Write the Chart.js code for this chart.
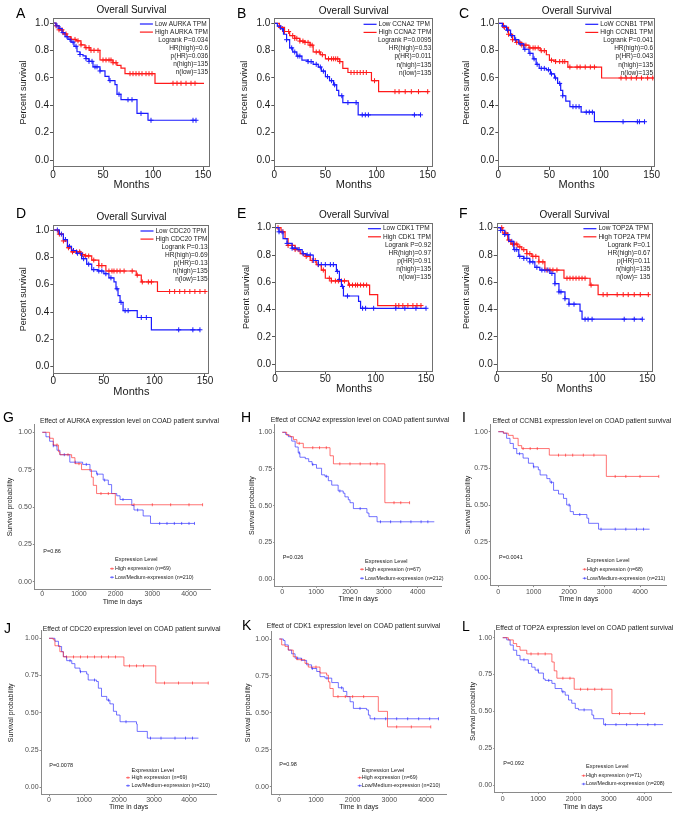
<!DOCTYPE html>
<html>
<head>
<meta charset="utf-8">
<script src="https://cdn.jsdelivr.net/npm/chart.js@4.4.0/dist/chart.umd.min.js"></script>
<style>
  body { margin: 0; background: #fff; }
  #fig { position: relative; width: 678px; height: 813px; overflow: hidden; background: #fff; }
  #fig canvas { position: absolute; }
</style>
</head>
<body>
<div id="fig"></div>
<script>
// tick values
const monthTicks = [0, 50, 100, 150];
const survTicks = [0, 0.2, 0.4, 0.6, 0.8, 1.0];
const dayTicks = [0, 1000, 2000, 3000, 4000];
const probTicks = [0, 0.25, 0.5, 0.75, 1];

// ---- GEPIA panels (months) ----
// A AURKA
const aLowT = [0, 3, 6, 9, 12, 15, 18, 21, 24, 27, 30, 33, 36, 40, 47, 52, 56, 62, 64, 68, 84, 95, 143];
const aLowS = [1, 0.98, 0.96, 0.93, 0.9, 0.88, 0.86, 0.83, 0.79, 0.77, 0.76, 0.74, 0.72, 0.68, 0.65, 0.61, 0.58, 0.55, 0.48, 0.44, 0.34, 0.29, 0.29];
const aLowC = [4, 7, 10, 14, 17, 20, 23, 27, 33, 36, 39, 42, 44, 47, 57, 66, 75, 79, 88, 98, 140, 143];
const aHighT = [0, 3, 6, 10, 14, 18, 23, 28, 32, 37, 47, 60, 64, 68, 72, 102, 151];
const aHighS = [1, 0.98, 0.95, 0.92, 0.9, 0.88, 0.87, 0.84, 0.82, 0.8, 0.73, 0.71, 0.69, 0.67, 0.63, 0.56, 0.56];
const aHighC = [3, 6, 9, 13, 18, 22, 25, 28, 33, 36, 38, 41, 45, 50, 53, 56, 58, 60, 63, 77, 80, 83, 86, 89, 93, 96, 99, 120, 124, 128, 133, 138, 142];
const aStats = ['Logrank P=0.034', 'HR(high)=0.6', 'p(HR)=0.036', 'n(high)=135', 'n(low)=135'];

// B CCNA2
const bLowT = [0, 3, 6, 9, 12, 15, 18, 22, 27, 33, 38, 43, 46, 50, 54, 58, 61, 63, 67, 82, 143];
const bLowS = [1, 0.98, 0.96, 0.92, 0.88, 0.82, 0.79, 0.76, 0.73, 0.72, 0.7, 0.68, 0.65, 0.61, 0.58, 0.55, 0.51, 0.47, 0.42, 0.33, 0.33];
const bLowC = [5, 8, 12, 17, 20, 23, 25, 33, 36, 41, 45, 48, 52, 56, 59, 66, 72, 80, 86, 89, 92, 137, 143];
const bHighT = [0, 5, 10, 15, 20, 25, 30, 35, 38, 45, 50, 64, 67, 72, 95, 102, 151];
const bHighS = [1, 0.97, 0.94, 0.91, 0.89, 0.87, 0.86, 0.84, 0.79, 0.77, 0.74, 0.72, 0.67, 0.64, 0.58, 0.5, 0.5];
const bHighC = [6, 10, 14, 18, 20, 22, 25, 28, 30, 33, 35, 37, 41, 44, 47, 53, 56, 58, 60, 62, 64, 75, 78, 81, 84, 87, 90, 98, 118, 122, 128, 134, 141, 150];
const bStats = ['Logrank P=0.0095', 'HR(high)=0.53', 'p(HR)=0.011', 'n(high)=135', 'n(low)=135'];

// C CCNB1
const cLowT = [0, 4, 8, 12, 16, 20, 25, 30, 34, 37, 40, 47, 51, 55, 58, 61, 63, 66, 70, 81, 94, 143];
const cLowS = [1, 0.98, 0.95, 0.91, 0.88, 0.85, 0.81, 0.78, 0.74, 0.7, 0.67, 0.66, 0.63, 0.6, 0.56, 0.51, 0.47, 0.43, 0.39, 0.35, 0.28, 0.28];
const cLowC = [5, 9, 13, 17, 22, 26, 31, 35, 38, 42, 45, 49, 52, 56, 60, 63, 73, 76, 79, 86, 89, 92, 122, 136, 138, 143];
const cHighT = [0, 5, 10, 14, 18, 23, 30, 41, 47, 50, 56, 68, 101, 152];
const cHighS = [1, 0.97, 0.92, 0.88, 0.86, 0.84, 0.82, 0.8, 0.77, 0.73, 0.72, 0.68, 0.6, 0.6];
const cHighC = [6, 10, 14, 18, 21, 23, 25, 27, 31, 34, 36, 39, 42, 45, 52, 56, 60, 63, 65, 70, 77, 80, 85, 90, 94, 120, 125, 130, 135, 140, 146, 151];
const cStats = ['Logrank P=0.041', 'HR(high)=0.6', 'p(HR)=0.043', 'n(high)=135', 'n(low)=135'];

// D CDC20
const dLowT = [0, 6, 10, 14, 18, 23, 28, 33, 38, 44, 50, 55, 60, 62, 64, 66, 69, 83, 97, 145];
const dLowS = [1, 0.97, 0.93, 0.88, 0.85, 0.83, 0.79, 0.75, 0.71, 0.7, 0.68, 0.65, 0.62, 0.57, 0.52, 0.47, 0.41, 0.36, 0.27, 0.27];
const dLowC = [4, 8, 12, 16, 20, 24, 27, 30, 35, 40, 45, 48, 52, 57, 63, 67, 71, 74, 87, 92, 124, 138, 145];
const dHighT = [0, 5, 10, 14, 18, 27, 31, 38, 45, 52, 82, 87, 103, 152];
const dHighS = [1, 0.97, 0.92, 0.87, 0.84, 0.82, 0.81, 0.78, 0.74, 0.7, 0.67, 0.62, 0.55, 0.55];
const dHighC = [6, 10, 15, 19, 23, 26, 29, 32, 35, 40, 45, 48, 55, 58, 60, 63, 66, 70, 78, 83, 88, 94, 97, 115, 120, 125, 130, 135, 140, 145, 150];
const dStats = ['Logrank P=0.13', 'HR(high)=0.69', 'p(HR)=0.13', 'n(high)=135', 'n(low)=135'];

// E CDK1
const eLowT = [0, 4, 8, 12, 17, 22, 27, 31, 38, 43, 61, 64, 66, 68, 83, 85, 150];
const eLowS = [1, 0.97, 0.92, 0.885, 0.85, 0.84, 0.81, 0.8, 0.76, 0.73, 0.68, 0.62, 0.57, 0.5, 0.46, 0.41, 0.41];
const eLowC = [4, 7, 12, 17, 20, 24, 28, 32, 35, 38, 43, 46, 50, 55, 58, 62, 64, 67, 72, 87, 90, 98, 120, 129, 140, 150];
const eHighT = [0, 6, 10, 13, 20, 25, 30, 35, 41, 46, 50, 56, 73, 94, 102, 146];
const eHighS = [1, 0.97, 0.92, 0.87, 0.84, 0.81, 0.79, 0.76, 0.73, 0.69, 0.63, 0.61, 0.58, 0.51, 0.43, 0.43];
const eHighC = [3, 8, 13, 17, 20, 23, 28, 31, 37, 40, 43, 48, 54, 56, 60, 63, 66, 69, 74, 77, 80, 82, 85, 88, 91, 120, 123, 127, 132, 137, 141, 145];
const eStats = ['Logrank P=0.92', 'HR(high)=0.97', 'p(HR)=0.91', 'n(high)=135', 'n(low)=135'];

// F TOP2A
const fLowT = [0, 4, 8, 12, 17, 22, 27, 33, 38, 43, 53, 58, 62, 68, 72, 83, 85, 145];
const fLowS = [1, 0.98, 0.95, 0.9, 0.84, 0.79, 0.775, 0.75, 0.71, 0.69, 0.665, 0.59, 0.53, 0.48, 0.44, 0.39, 0.33, 0.33];
const fLowC = [4, 8, 11, 15, 18, 20, 23, 27, 30, 33, 36, 40, 45, 48, 51, 55, 58, 62, 64, 68, 72, 77, 88, 91, 95, 127, 137, 145];
const fHighT = [0, 6, 11, 14, 21, 25, 30, 35, 42, 48, 67, 93, 101, 152];
const fHighS = [1, 0.96, 0.91, 0.88, 0.86, 0.84, 0.81, 0.79, 0.75, 0.69, 0.63, 0.58, 0.51, 0.51];
const fHighC = [5, 9, 12, 16, 18, 20, 23, 27, 30, 33, 36, 39, 42, 46, 50, 53, 56, 60, 70, 73, 76, 79, 82, 85, 88, 94, 106, 110, 120, 126, 131, 137, 143, 151];
const fStats = ['Logrank P=0.1', 'HR(high)=0.67', 'p(HR)=0.11', 'n(high)=135', 'n(low)= 135'];

// ---- UALCAN panels (days) ----
// G AURKA
const gLowT = [0, 100, 200, 300, 400, 480, 750, 1100, 1300, 1480, 1660, 1800, 1890, 2030, 2120, 2440, 2500, 2750, 2950, 4150];
const gLowS = [1, 0.97, 0.94, 0.91, 0.88, 0.85, 0.8, 0.785, 0.74, 0.72, 0.68, 0.65, 0.59, 0.575, 0.55, 0.51, 0.48, 0.44, 0.39, 0.39];
const gLowC = [300, 600, 900, 1200, 1500, 1700, 2200, 2600, 3200, 3400, 3600, 3800, 4000, 4150];
const gHighT = [0, 200, 300, 440, 480, 800, 890, 1070, 1340, 1390, 1480, 1990, 4370];
const gHighS = [1, 0.96, 0.915, 0.87, 0.85, 0.83, 0.79, 0.75, 0.7, 0.645, 0.59, 0.515, 0.515];
const gHighC = [400, 700, 1000, 1600, 1800, 2500, 3000, 3500, 4000, 4370];

// H CCNA2
const hLowT = [0, 100, 180, 280, 380, 470, 520, 680, 780, 880, 1010, 1160, 1260, 1360, 1460, 1650, 1800, 1850, 1950, 2000, 2100, 2500, 2560, 2800, 4490];
const hLowS = [1, 0.985, 0.97, 0.94, 0.9, 0.86, 0.83, 0.82, 0.8, 0.78, 0.755, 0.71, 0.7, 0.67, 0.64, 0.6, 0.585, 0.56, 0.54, 0.52, 0.48, 0.45, 0.425, 0.39, 0.39];
const hLowC = [500, 900, 1300, 1700, 2300, 2900, 3200, 3500, 3800, 4100, 4300];
const hHighT = [0, 130, 230, 330, 430, 620, 1410, 1510, 3030, 3760];
const hHighS = [1, 0.98, 0.97, 0.95, 0.925, 0.895, 0.84, 0.785, 0.52, 0.52];
const hHighC = [500, 900, 1100, 1300, 1700, 2000, 2300, 2600, 2800, 3300, 3500, 3760];

// I CCNB1
const iLowT = [0, 140, 235, 330, 425, 520, 700, 850, 990, 1130, 1180, 1370, 1460, 1560, 1700, 1840, 1930, 2030, 2120, 2500, 2550, 2830, 4270];
const iLowS = [1, 0.99, 0.955, 0.92, 0.885, 0.85, 0.82, 0.785, 0.76, 0.74, 0.705, 0.68, 0.655, 0.6, 0.575, 0.545, 0.5, 0.455, 0.435, 0.41, 0.375, 0.335, 0.335];
const iLowC = [600, 1000, 1500, 2000, 2300, 2900, 3300, 3600, 3900, 4100];
const iHighT = [0, 150, 280, 420, 560, 660, 1440, 3050, 4530];
const iHighS = [1, 0.99, 0.975, 0.955, 0.905, 0.885, 0.84, 0.695, 0.695];
const iHighC = [700, 900, 1100, 1700, 1900, 2100, 2400, 2700, 3300, 3600, 4000, 4530];

// J CDC20
const jLowT = [0, 170, 270, 360, 410, 505, 650, 740, 885, 1075, 1120, 1360, 1410, 1500, 1650, 1740, 1840, 1930, 2030, 2500, 2520, 2810, 4270];
const jLowS = [1, 0.98, 0.945, 0.91, 0.877, 0.85, 0.83, 0.8, 0.776, 0.76, 0.72, 0.71, 0.665, 0.61, 0.585, 0.56, 0.51, 0.485, 0.44, 0.425, 0.375, 0.33, 0.33];
const jLowC = [600, 900, 1300, 1700, 2200, 2900, 3200, 3600, 3900, 4100];
const jHighT = [0, 120, 170, 310, 410, 2140, 3050, 4550];
const jHighS = [1, 0.99, 0.95, 0.91, 0.875, 0.815, 0.7, 0.7];
const jHighC = [500, 700, 900, 1100, 1300, 1500, 1700, 1900, 2300, 2500, 2700, 3300, 3700, 4100, 4550];

// K CDK1
const kLowT = [0, 110, 155, 245, 335, 430, 610, 745, 880, 1020, 1110, 1245, 1430, 1610, 1745, 1840, 1930, 2020, 2380, 2430, 2475, 4340];
const kLowS = [1, 0.99, 0.96, 0.925, 0.9, 0.87, 0.855, 0.825, 0.8, 0.78, 0.745, 0.735, 0.705, 0.67, 0.645, 0.61, 0.575, 0.53, 0.52, 0.485, 0.46, 0.46];
const kLowC = [500, 900, 1300, 1700, 2200, 2600, 2900, 3200, 3500, 3800, 4100, 4340];
const kHighT = [0, 65, 155, 245, 380, 470, 700, 790, 1110, 1290, 1340, 1380, 1470, 2700, 2950, 4130];
const kHighS = [1, 0.96, 0.95, 0.925, 0.88, 0.86, 0.835, 0.81, 0.77, 0.755, 0.71, 0.665, 0.61, 0.51, 0.405, 0.405];
const kHighC = [600, 1000, 1600, 1800, 2000, 2300, 3200, 3600, 4130];

// L TOP2A
const lLowT = [0, 115, 210, 300, 395, 490, 725, 820, 915, 1010, 1150, 1200, 1390, 1480, 1670, 1765, 1860, 1950, 2050, 2140, 2520, 2570, 2850, 4530];
const lLowS = [1, 0.985, 0.95, 0.915, 0.88, 0.85, 0.825, 0.8, 0.78, 0.76, 0.72, 0.71, 0.69, 0.655, 0.633, 0.61, 0.577, 0.555, 0.52, 0.51, 0.475, 0.45, 0.41, 0.41];
const lLowC = [600, 1000, 1300, 1700, 2300, 2900, 3200, 3500, 3800, 4100, 4300];
const lHighT = [0, 160, 300, 395, 490, 680, 1390, 1455, 1530, 2020, 3085, 4010];
const lHighS = [1, 0.985, 0.96, 0.94, 0.915, 0.89, 0.835, 0.775, 0.725, 0.65, 0.485, 0.485];
const lHighC = [800, 1000, 1200, 1700, 1900, 2200, 2400, 2600, 2800, 3300, 3600, 4010];

const FONT = "'Liberation Sans', Arial, Helvetica, sans-serif";
const fig = document.getElementById('fig');

function stepAt(t, s, x) {
  let v = s[0];
  for (let i = 0; i < t.length; i++) if (t[i] <= x) v = s[i];
  return v;
}
function curve(t, s) { return t.map((x, i) => ({ x: x, y: s[i] })); }
function marks(t, s, c) { return c.map(x => ({ x: x, y: stepAt(t, s, x) })); }

function text(ctx, str, x, y, size, color, align, base) {
  ctx.font = size + 'px ' + FONT;
  ctx.fillStyle = color;
  ctx.textAlign = align || 'left';
  ctx.textBaseline = base || 'middle';
  ctx.fillText(str, x, y);
}

function build(p, g) {
  const [cx, cy, cw, ch] = p.canvas;
  const cv = document.createElement('canvas');
  cv.width = cw; cv.height = ch;
  cv.style.left = cx + 'px'; cv.style.top = cy + 'px';
  fig.appendChild(cv);
  const tickFont = { family: FONT, size: g.tickSize, lineHeight: 1 };
  new Chart(cv, {
    type: 'line',
    data: { datasets: g.datasets },
    options: {
      responsive: false, animation: false, devicePixelRatio: 1, events: [],
      layout: { padding: { left: 0, top: g.t - cy, right: cx + cw - g.r, bottom: 0 } },
      plugins: { legend: { display: false }, title: { display: false }, tooltip: { enabled: false } },
      scales: {
        x: {
          type: 'linear', min: g.xmin, max: g.xmax,
          afterFit: s => { s.height = cy + ch - g.b; },
          afterBuildTicks: s => { s.ticks = g.xTicks.map(v => ({ value: v })); },
          ticks: { autoSkip: false, maxRotation: 0, font: tickFont, color: g.tickColor,
                   padding: g.xTickY - g.b - g.tl - g.tickSize / 2, callback: g.xFmt },
          grid: { drawOnChartArea: false, drawTicks: true, tickLength: g.tl, color: g.axisColor },
          border: { display: g.border, color: g.axisColor, width: 1 },
          title: { display: true, text: g.xTitle, color: g.titleColor,
                   font: { family: FONT, size: g.xTitleSize, lineHeight: 1 },
                   padding: { top: 0, bottom: cy + ch - g.xTitleY - g.xTitleSize / 2 } }
        },
        y: {
          type: 'linear', min: g.ymin, max: g.ymax,
          afterFit: s => { s.width = g.l - cx; },
          afterBuildTicks: s => { s.ticks = g.yTicks.map(v => ({ value: v })); },
          ticks: { autoSkip: false, font: tickFont, color: g.tickColor, padding: g.yTickPad, callback: g.yFmt },
          grid: { drawOnChartArea: false, drawTicks: true, tickLength: g.tl, color: g.axisColor },
          border: { display: g.border, color: g.axisColor, width: 1 },
          title: { display: true, text: g.yTitle, color: g.titleColor,
                   font: { family: FONT, size: g.yTitleSize, lineHeight: 1 },
                   padding: { top: g.yTitleX - cx - g.yTitleSize / 2, bottom: 0 } }
        }
      }
    },
    plugins: [{ id: 'deco', afterDraw: chart => g.draw(chart.ctx, cx, cy, chart) }]
  });
}

function lineSet(data, color, w) {
  return { data: data, borderColor: color, borderWidth: w, stepped: true, pointRadius: 0, fill: false };
}
function markSet(data, color, style, r, rot) {
  return { data: data, showLine: false, pointStyle: style, pointRadius: r, pointRotation: rot || 0,
           pointBorderColor: color, pointBackgroundColor: color, pointBorderWidth: 1 };
}

// GEPIA style panel
function gepia(p) {
  const kx = (p.x150 - p.x0) / 150, ky = p.py0 - p.py1;
  const l = p.x0, r = p.r, t = p.py1 - 5, b = p.py0 + 7;
  const RED = '#ff1a1a', BLUE = '#1a1aff';
  build(p, {
    l, r, t, b,
    xmin: 0, xmax: (r - p.x0) / kx, ymin: (p.py0 - b) / ky, ymax: (p.py0 - t) / ky,
    xTicks: monthTicks, yTicks: survTicks,
    xFmt: v => String(v), yFmt: v => v.toFixed(1),
    tickSize: 10, tickColor: '#1a1a1a', tl: 3, yTickPad: 1, xTickY: p.py0 + 15,
    axisColor: '#555', border: false, titleColor: '#1a1a1a',
    xTitle: 'Months', xTitleSize: 11, xTitleY: p.py0 + 25,
    yTitle: 'Percent survival', yTitleSize: 9, yTitleX: p.yTitleX,
    datasets: [
      lineSet(curve(p.lowT, p.lowS), BLUE, 1.2),
      lineSet(curve(p.highT, p.highS), RED, 1.2),
      markSet(marks(p.lowT, p.lowS, p.lowC), BLUE, 'cross', 2.5),
      markSet(marks(p.highT, p.highS, p.highC), RED, 'cross', 2.5)
    ],
    draw: (ctx, cx, cy, chart) => {
      const a = chart.chartArea;
      ctx.save();
      ctx.strokeStyle = '#707070'; ctx.lineWidth = 1;
      ctx.strokeRect(Math.round(a.left) + 0.5, Math.round(a.top) + 0.5,
                     Math.round(a.right - a.left) - 1, Math.round(a.bottom - a.top) - 1);
      text(ctx, 'Overall Survival', (a.left + a.right) / 2, p.py1 - 12.3 - cy, 10, '#111', 'center');
      text(ctx, p.letter, p.lx - cx, p.ly - cy, 14, '#000', 'left', 'alphabetic');
      const right = r - 2 - cx;
      let y = p.py1 + 1 - cy;
      ctx.font = '6.5px ' + FONT;
      const tx = right - ctx.measureText(p.highLabel).width;
      [[p.lowLabel, BLUE], [p.highLabel, RED]].forEach(([lab, col]) => {
        ctx.strokeStyle = col; ctx.lineWidth = 1.2;
        ctx.beginPath(); ctx.moveTo(tx - 15, y); ctx.lineTo(tx - 2, y); ctx.stroke();
        text(ctx, lab, tx, y, 6.5, '#222');
        y += 8.1;
      });
      p.stats.forEach(s => { text(ctx, s, right, y, 6.5, '#222', 'right'); y += 8.1; });
      ctx.restore();
    }
  });
}

// UALCAN style panel
function ualcan(p) {
  const kx = (p.x4000 - p.x0) / 4000, ky = p.py0 - p.py1;
  const l = p.x0 + p.xr[0] * kx, r = p.x0 + p.xr[1] * kx;
  const t = p.py0 - 1.05 * ky, b = p.py0 + 0.05 * ky;
  const RED = 'rgba(255,30,30,0.62)', BLUE = 'rgba(30,30,255,0.62)';
  build(p, {
    l, r, t, b,
    xmin: p.xr[0], xmax: p.xr[1], ymin: -0.05, ymax: 1.05,
    xTicks: dayTicks, yTicks: probTicks,
    xFmt: v => String(v), yFmt: v => v.toFixed(2),
    tickSize: 7, tickColor: '#4d4d4d', tl: 1.5, yTickPad: 1, xTickY: p.tickY,
    axisColor: '#8a8a8a', border: true, titleColor: '#222',
    xTitle: 'Time in days', xTitleSize: 7, xTitleY: p.xTitleY,
    yTitle: 'Survival probability', yTitleSize: 7, yTitleX: p.yTitleX,
    datasets: [
      lineSet(curve(p.highT, p.highS), RED, 1),
      lineSet(curve(p.lowT, p.lowS), BLUE, 1),
      markSet(marks(p.highT, p.highS, p.highC), RED, 'line', 1.5, 90),
      markSet(marks(p.lowT, p.lowS, p.lowC), BLUE, 'line', 1.5, 90)
    ],
    draw: (ctx, cx, cy) => {
      ctx.save();
      text(ctx, p.letter, p.lx - cx, p.ly - cy, 14, '#000', 'left', 'alphabetic');
      text(ctx, 'Effect of ' + p.gene + ' expression level on COAD patient survival',
           p.titleX - cx, p.titleY - cy, 6.8, '#222');
      text(ctx, p.pText, p.pX - cx, p.pY - cy, 5.5, '#222');
      text(ctx, 'Expression Level', p.legX - cx, p.legY[0] - cy, 5.6, '#222');
      [[p.highLabel, RED], [p.lowLabel, BLUE]].forEach(([lab, col], i) => {
        const y = p.legY[i + 1] - cy, x = p.keyX - cx;
        ctx.strokeStyle = col; ctx.lineWidth = 1;
        ctx.beginPath(); ctx.moveTo(x, y); ctx.lineTo(x + 4, y);
        ctx.moveTo(x + 2, y - 1.2); ctx.lineTo(x + 2, y + 1.2); ctx.stroke();
        text(ctx, lab, p.legX - cx, y, 5.4, '#222');
      });
      ctx.restore();
    }
  });
}

gepia({ letter: 'A', lx: 16, ly: 18, canvas: [0, 0, 240, 196], x0: 53, x150: 203, r: 210, py1: 23, py0: 160, yTitleX: 24,
  lowLabel: 'Low AURKA TPM', highLabel: 'High AURKA TPM', stats: aStats,
  lowT: aLowT, lowS: aLowS, lowC: aLowC, highT: aHighT, highS: aHighS, highC: aHighC });
gepia({ letter: 'B', lx: 237, ly: 18, canvas: [225, 0, 240, 196], x0: 274.3, x150: 427.7, r: 433.3, py1: 23.3, py0: 160, yTitleX: 245,
  lowLabel: 'Low CCNA2 TPM', highLabel: 'High CCNA2 TPM', stats: bStats,
  lowT: bLowT, lowS: bLowS, lowC: bLowC, highT: bHighT, highS: bHighS, highC: bHighC });
gepia({ letter: 'C', lx: 459, ly: 18, canvas: [450, 0, 228, 196], x0: 498.3, x150: 651.7, r: 655, py1: 23.3, py0: 160, yTitleX: 467,
  lowLabel: 'LoW CCNB1 TPM', highLabel: 'High CCNB1 TPM', stats: cStats,
  lowT: cLowT, lowS: cLowS, lowC: cLowC, highT: cHighT, highS: cHighS, highC: cHighC });
gepia({ letter: 'D', lx: 16, ly: 218, canvas: [0, 196, 240, 202], x0: 53.3, x150: 205, r: 209.5, py1: 230, py0: 366.7, yTitleX: 24,
  lowLabel: 'Low CDC20 TPM', highLabel: 'High CDC20 TPM', stats: dStats,
  lowT: dLowT, lowS: dLowS, lowC: dLowC, highT: dHighT, highS: dHighS, highC: dHighC });
gepia({ letter: 'E', lx: 237, ly: 218, canvas: [225, 196, 240, 202], x0: 275, x150: 426, r: 433, py1: 227.7, py0: 364.3, yTitleX: 247,
  lowLabel: 'Low CDK1 TPM', highLabel: 'High CDK1 TPM', stats: eStats,
  lowT: eLowT, lowS: eLowS, lowC: eLowC, highT: eHighT, highS: eHighS, highC: eHighC });
gepia({ letter: 'F', lx: 459, ly: 218, canvas: [450, 196, 228, 202], x0: 496.7, x150: 647.3, r: 652.3, py1: 227.7, py0: 364.3, yTitleX: 467,
  lowLabel: 'Low TOP2A TPM', highLabel: 'High TOP2A TPM', stats: fStats,
  lowT: fLowT, lowS: fLowS, lowC: fLowC, highT: fHighT, highS: fHighS, highC: fHighC });

ualcan({ letter: 'G', lx: 3, ly: 422, canvas: [0, 398, 240, 210], gene: 'AURKA',
  x0: 42.3, x4000: 189, py1: 432.3, py0: 581.7, xr: [-218, 4588],
  tickY: 594, xTitleY: 601.7, yTitleX: 10, titleX: 40, titleY: 421,
  pText: 'P=0.86', pX: 43.3, pY: 551.7, legX: 115, keyX: 110, legY: [559.3, 568.7, 577.3],
  highLabel: 'High expression (n=69)', lowLabel: 'Low/Medium-expression (n=210)',
  lowT: gLowT, lowS: gLowS, lowC: gLowC, highT: gHighT, highS: gHighS, highC: gHighC });
ualcan({ letter: 'H', lx: 241, ly: 422, canvas: [225, 398, 240, 210], gene: 'CCNA2',
  x0: 282.3, x4000: 417.7, py1: 432.3, py0: 579, xr: [-225, 4715],
  tickY: 591.7, xTitleY: 599, yTitleX: 252.3, titleX: 270.7, titleY: 420,
  pText: 'P=0.026', pX: 282.7, pY: 557.3, legX: 365, keyX: 360, legY: [561.7, 569.3, 578.3],
  highLabel: 'High expression (n=67)', lowLabel: 'Low/Medium-expression (n=212)',
  lowT: hLowT, lowS: hLowS, lowC: hLowC, highT: hHighT, highS: hHighS, highC: hHighC });
ualcan({ letter: 'I', lx: 462, ly: 422, canvas: [450, 398, 228, 210], gene: 'CCNB1',
  x0: 498.3, x4000: 640, py1: 431.7, py0: 578.3, xr: [-226, 4756],
  tickY: 591.7, xTitleY: 599, yTitleX: 468.3, titleX: 492.7, titleY: 421,
  pText: 'P=0.0041', pX: 499, pY: 557.3, legX: 587, keyX: 582.7, legY: [560, 569.3, 578.3],
  highLabel: 'High expression (n=68)', lowLabel: 'Low/Medium-expression (n=211)',
  lowT: iLowT, lowS: iLowS, lowC: iLowC, highT: iHighT, highS: iHighS, highC: iHighC });
ualcan({ letter: 'J', lx: 4, ly: 633, canvas: [0, 608, 240, 205], gene: 'CDC20',
  x0: 49, x4000: 189, py1: 638.3, py0: 787.3, xr: [-228, 4778],
  tickY: 800, xTitleY: 806.7, yTitleX: 11, titleX: 42.7, titleY: 629.3,
  pText: 'P=0.0078', pX: 49.3, pY: 765, legX: 131.5, keyX: 126, legY: [770.7, 777.7, 785.7],
  highLabel: 'High expression (n=69)', lowLabel: 'Low/Medium-expression (n=210)',
  lowT: jLowT, lowS: jLowS, lowC: jLowC, highT: jHighT, highS: jHighS, highC: jHighC });
ualcan({ letter: 'K', lx: 242, ly: 630, canvas: [225, 608, 240, 205], gene: 'CDK1',
  x0: 279.3, x4000: 426, py1: 639, py0: 786.7, xr: [-217, 4557],
  tickY: 800, xTitleY: 807.3, yTitleX: 247.7, titleX: 266.7, titleY: 626,
  pText: 'P=0.98', pX: 279.3, pY: 764.3, legX: 361.7, keyX: 357.7, legY: [770, 777.7, 785.7],
  highLabel: 'High expression (n=69)', lowLabel: 'Low/Medium-expression (n=210)',
  lowT: kLowT, lowS: kLowS, lowC: kLowC, highT: kHighT, highS: kHighS, highC: kHighC });
ualcan({ letter: 'L', lx: 462, ly: 631, canvas: [450, 608, 228, 205], gene: 'TOP2A',
  x0: 502.7, x4000: 644.3, py1: 637.7, py0: 785, xr: [-226, 4756],
  tickY: 799, xTitleY: 806.7, yTitleX: 472.7, titleX: 495.7, titleY: 627.7,
  pText: 'P=0.092', pX: 503.3, pY: 763.3, legX: 586, keyX: 581.7, legY: [766.7, 775.7, 784],
  highLabel: 'High expression (n=71)', lowLabel: 'Low/Medium-expression (n=208)',
  lowT: lLowT, lowS: lLowS, lowC: lLowC, highT: lHighT, highS: lHighS, highC: lHighC });
</script>
</body>
</html>
